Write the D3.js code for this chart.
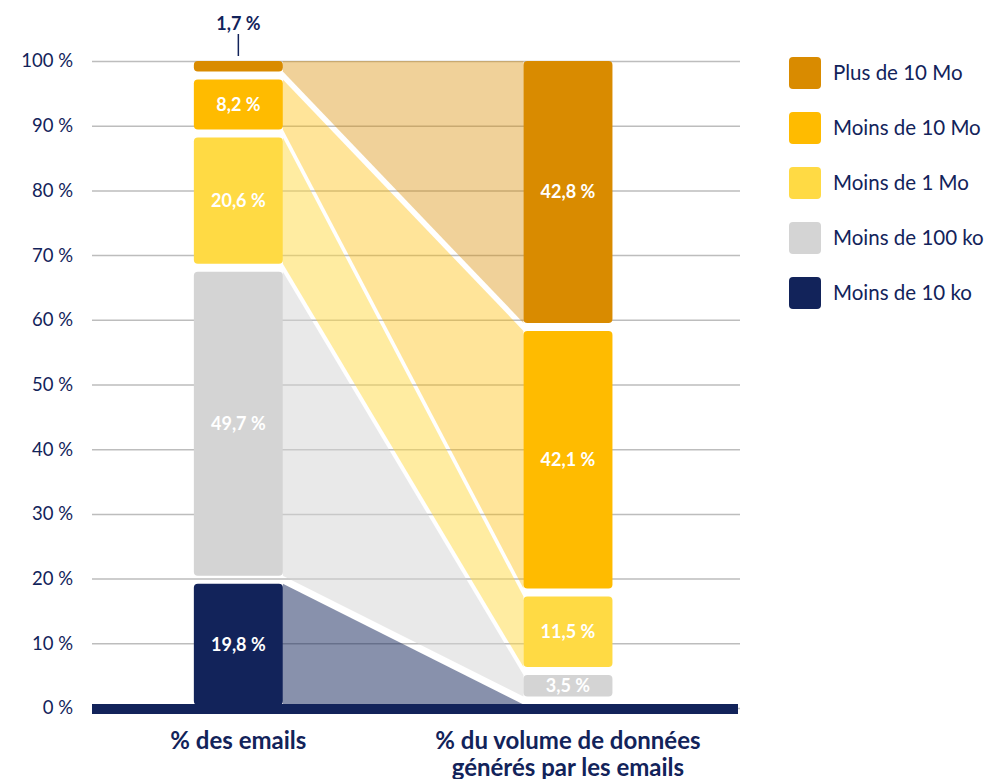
<!DOCTYPE html>
<html>
<head>
<meta charset="utf-8">
<script src="https://cdn.jsdelivr.net/npm/d3@7"></script>
<style>
  body { margin: 0; background: #fff; }
  svg text { font-family: Lato, "Open Sans", sans-serif; }
</style>
</head>
<body>
<div id="chart"></div>
<script>
// Données
const categories = ['% des emails', '% du volume de données générés par les emails'];
const categoryLines = [['% des emails'], ['% du volume de données', 'générés par les emails']];
const series = ['Moins de 10 ko', 'Moins de 100 ko', 'Moins de 1 Mo', 'Moins de 10 Mo', 'Plus de 10 Mo'];
const emailsShare = [19.8, 49.7, 20.6, 8.2, 1.7];
const volumeShare = [0.1, 3.5, 11.5, 42.1, 42.8];
const colors = ['#12235A', '#D4D4D4', '#FFDA44', '#FFBB00', '#D98B00'];
const yTicks = [0, 10, 20, 30, 40, 50, 60, 70, 80, 90, 100];

const navy = '#12235A';
const width = 987, height = 779;
const margin = { top: 61, right: 247, bottom: 71, left: 92 };
const plotW = width - margin.left - margin.right;
const plotH = height - margin.top - margin.bottom;
const gap = 8;

const fmt = v => String(v).replace('.', ',') + ' %';

const svg = d3.select('#chart').append('svg')
  .attr('width', width)
  .attr('height', height);

const chart = svg.append('g')
  .attr('transform', `translate(${margin.left},${margin.top})`);

// Echelles
const xScale = d3.scaleBand()
  .domain(categories)
  .range([0, plotW])
  .paddingInner(0.73)
  .paddingOuter(0.348)
  .align(0.444);

const yScale = d3.scaleLinear().domain([0, 100]).range([plotH, 0]);

// échelle des segments (les espaces blancs entre segments sont pris sur la hauteur)
const segScale = d3.scaleLinear().domain([0, 100])
  .range([yScale(0) - 3, yScale(0) - 3 - (yScale(0) - 3 - yScale(100) - gap * (series.length - 1))]);

function stackOf(values) {
  let cum = 0;
  return values.map((v, i) => {
    const bottom = segScale(cum) - i * gap;
    cum += v;
    const top = segScale(cum) - i * gap;
    return { key: series[i], value: v, i, top, bottom };
  });
}
const stacks = [stackOf(emailsShare), stackOf(volumeShare)];

// Grille
const yAxis = d3.axisLeft(yScale)
  .tickValues(yTicks)
  .tickSize(-plotW)
  .tickFormat(d => d + ' %');

const yAxisG = chart.append('g').call(yAxis);
yAxisG.select('.domain').remove();
yAxisG.selectAll('.tick line').attr('stroke', '#BDBDBD').attr('stroke-width', 1.5);
yAxisG.selectAll('.tick text')
  .attr('x', -19)
  .attr('fill', navy)
  .style('font-size', '18.5px');

// Bandes de liaison
const xL = xScale(categories[0]) + xScale.bandwidth();
const xR = xScale(categories[1]);
chart.selectAll('.flow')
  .data(series.map((s, i) => ({ l: stacks[0][i], r: stacks[1][i], i })))
  .enter().append('path')
  .attr('class', 'flow')
  .attr('d', d => `M${xL},${d.l.top}L${xR},${d.r.top}L${xR},${d.r.bottom}L${xL},${d.l.bottom}Z`)
  .attr('fill', d => colors[d.i])
  .attr('fill-opacity', d => d.i === 3 || d.i === 4 ? 0.4 : 0.5);

// Segments
stacks.forEach((stack, c) => {
  const g = chart.append('g');
  g.selectAll('rect')
    .data(stack.filter(d => d.bottom - d.top > 0.3))
    .enter().append('rect')
    .attr('x', xScale(categories[c]))
    .attr('width', xScale.bandwidth())
    .attr('y', d => d.top)
    .attr('height', d => d.bottom - d.top)
    .attr('rx', d => Math.min(4, (d.bottom - d.top) / 2))
    .attr('fill', d => colors[d.i]);

  g.selectAll('text')
    .data(stack.filter(d => d.value >= 3))
    .enter().append('text')
    .attr('x', xScale(categories[c]) + xScale.bandwidth() / 2)
    .attr('y', d => (d.top + d.bottom) / 2)
    .attr('dy', '0.36em')
    .attr('text-anchor', 'middle')
    .attr('fill', '#fff')
    .style('font-size', '18px')
    .style('font-weight', 700)
    .text(d => fmt(d.value));

  // petites valeurs : étiquette au-dessus
  stack.filter(d => d.value >= 1 && d.value < 3).forEach(d => {
    const cx = xScale(categories[c]) + xScale.bandwidth() / 2;
    g.append('line')
      .attr('x1', cx).attr('x2', cx)
      .attr('y1', d.top - 5).attr('y2', d.top - 27)
      .attr('stroke', navy).attr('stroke-width', 1.5);
    g.append('text')
      .attr('x', cx)
      .attr('y', d.top - 31)
      .attr('text-anchor', 'middle')
      .attr('fill', navy)
      .style('font-size', '18px')
      .style('font-weight', 700)
      .text(fmt(d.value));
  });
});

// Ligne de base
chart.append('rect')
  .attr('x', 0)
  .attr('y', yScale(0) - 4)
  .attr('width', plotW - 2)
  .attr('height', 10)
  .attr('fill', navy);

// Libellés des catégories
categories.forEach((c, ci) => {
  const t = chart.append('text')
    .attr('x', xScale(c) + xScale.bandwidth() / 2)
    .attr('y', plotH + 41)
    .attr('text-anchor', 'middle')
    .attr('fill', navy)
    .style('font-size', '24px')
    .style('font-weight', 700);
  categoryLines[ci].forEach((line, li) => {
    t.append('tspan')
      .attr('x', xScale(c) + xScale.bandwidth() / 2)
      .attr('dy', li === 0 ? 0 : 27)
      .text(line);
  });
});

// Légende
const legend = svg.append('g')
  .attr('transform', 'translate(789,57)');
const legendItems = legend.selectAll('g')
  .data(series.slice().reverse())
  .enter().append('g')
  .attr('transform', (d, i) => `translate(0,${i * 55})`);
legendItems.append('rect')
  .attr('width', 32).attr('height', 32).attr('rx', 4)
  .attr('fill', d => colors[series.indexOf(d)]);
legendItems.append('text')
  .attr('x', 44)
  .attr('y', 16)
  .attr('dy', '0.35em')
  .attr('fill', navy)
  .style('font-size', '20.5px')
  .text(d => d);
</script>
</body>
</html>
